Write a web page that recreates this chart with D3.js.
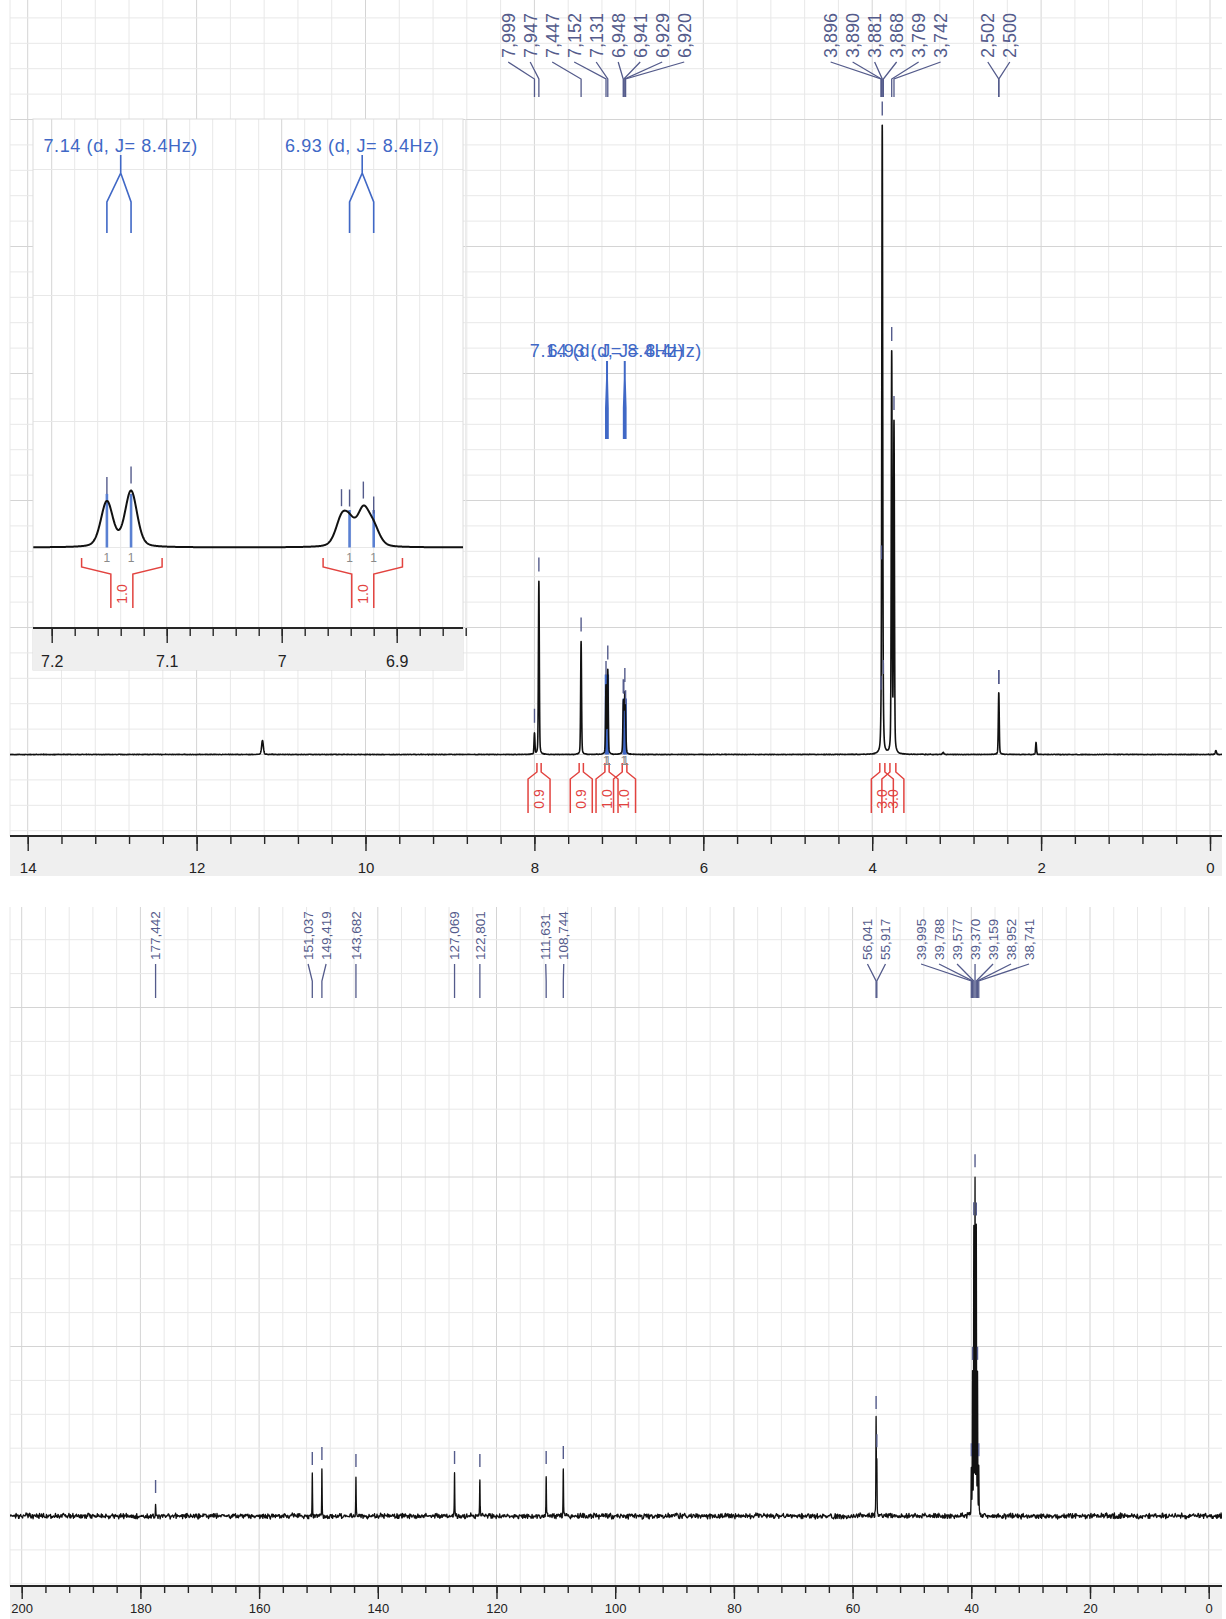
<!DOCTYPE html>
<html>
<head>
<meta charset="utf-8">
<script src="https://cdn.jsdelivr.net/npm/d3@7/dist/d3.min.js"></script>
<style>
  html, body { margin: 0; padding: 0; background: #fff; }
  svg { display: block; font-family: "Liberation Sans", Arial, sans-serif; }
</style>
</head>
<body>
<svg id="chart" width="1226" height="1619"></svg>
<script>
// ---------------- 1H NMR ----------------
// resolved lines: chemical shift (ppm), peak height (spectrum units), half width (ppm)
const hLinePpm    = [11.22, 7.999, 7.947, 7.447, 7.152, 7.131, 6.948, 6.941, 6.929, 6.920, 3.896, 3.890, 3.881, 3.868, 3.769, 3.742, 3.16, 2.502, 2.500, 2.06, -0.07];
const hLineHeight = [14, 21, 173, 113, 67.5, 83.4, 37.3, 28.4, 51.5, 25.7, 10, 18, 622, 14, 398, 328, 2, 32, 31, 12, 4];
const hLineWidth  = [0.012, 0.0062, 0.0062, 0.0062, 0.0062, 0.0062, 0.0062, 0.0062, 0.0062, 0.0062, 0.0062, 0.0062, 0.0062, 0.0062, 0.0062, 0.0062, 0.01, 0.0062, 0.0062, 0.0062, 0.008];

// picked peaks (labelled in the header)
const hPickPpm = [7.999, 7.947, 7.447, 7.152, 7.131, 6.948, 6.941, 6.929, 6.920, 3.896, 3.890, 3.881, 3.868, 3.769, 3.742, 2.502, 2.500];

// multiplet analysis
const multCenter = [7.14, 6.93];
const multLabel  = ["7.14 (d, J= 8.4Hz)", "6.93 (d, J= 8.4Hz)"];
const multLines  = [[7.152, 7.131], [6.941, 6.920]];
const multLineHeight = [80, 56];
const multLineCount  = ["1", "1"];

// integrals: range (ppm) and value
const hIntFrom  = [7.97, 7.47, 7.165, 6.96, 3.91, 3.79];
const hIntTo    = [7.92, 7.42, 7.115, 6.905, 3.85, 3.72];
const hIntValue = ["0.9", "0.9", "1.0", "1.0", "3.0", "3.0"];
const insetIntFrom  = [7.174, 6.964];
const insetIntTo    = [7.104, 6.895];
const insetIntValue = ["1.0", "1.0"];

// axis ticks
const hMajorTicks = [14, 12, 10, 8, 6, 4, 2, 0];
const hMinorTicks = d3.range(0, 36).map(i => +(i * 0.4).toFixed(1));
const insetMajorTicks = [7.2, 7.1, 7.0, 6.9];
const insetMinorTicks = d3.range(0, 19).map(i => +(6.84 + i * 0.02).toFixed(2));

// ---------------- 13C NMR ----------------
const cLinePpm    = [177.442, 151.037, 149.419, 143.682, 127.069, 122.801, 111.631, 108.744, 56.041, 55.917, 39.995, 39.788, 39.577, 39.370, 39.159, 38.952, 38.741];
const cLineHeight = [13, 41, 46, 39, 42, 39, 42, 47, 95, 55, 46, 140, 283, 330, 283, 140, 46];
const cMajorTicks = [200, 180, 160, 140, 120, 100, 80, 60, 40, 20, 0];
const cMinorTicks = d3.range(0, 51).map(i => i * 4);

// ---------------- styling ----------------
const FONT = '"Liberation Sans", Arial, sans-serif';
const COL = {
  ink: "#111", grid: "#e8e8e8", gridMajor: "#d4d4d4", band: "#efefef",
  pick: "#545b8b", blue: "#4068c6", blueLine: "#5a80d2", red: "#e2433f",
  grey: "#8a8a8a", axis: "#262626"
};

const svg = d3.select("#chart");
svg.append("rect").attr("width", 1226).attr("height", 1619).attr("fill", "#fff");

// ---------------- scales ----------------
const hX = d3.scaleLinear().domain([14, 0]).range([27.7, 1210]);
const hY = d3.scaleLinear().domain([0, 632]).range([754.5, 122.5]);
const inX = d3.scaleLinear().domain([7.2, 6.9]).range([51.7, 396.7]);
const inY = d3.scaleLinear().domain([0, 100]).range([547.5, 480.5]);
const cX = d3.scaleLinear().domain([200, 0]).range([21.7, 1208.7]);
const cY = d3.scaleLinear().domain([0, 339]).range([1516, 1177]);

const H = { left: 10, right: 1222, top: 0, axis: 836, bottom: 876 };
const IN = { left: 33, right: 463, top: 119, axis: 628, bottom: 670 };
const CP = { left: 10, right: 1222, top: 907, axis: 1586, bottom: 1619 };

// ---------------- helpers ----------------
function pseudoVoigt(d, w, eta) {
  const r2 = (d / w) * (d / w);
  return (1 - eta) * Math.exp(-Math.LN2 * r2) + eta / (1 + r2);
}

// deterministic hash used for the baseline noise texture
function hash01(n) {
  let t = (n * 2654435761) >>> 0;
  t ^= t >>> 15; t = Math.imul(t, 0x2c1b3c6d) >>> 0;
  t ^= t >>> 12; t = Math.imul(t, 0x297a2d39) >>> 0;
  t ^= t >>> 15;
  return (t >>> 0) / 4294967296;
}
function noiseAt(xPx, amp, seed) {
  const i = Math.round(xPx * 2) + seed;
  return (hash01(i) + hash01(i + 7919) - 1) * amp;
}

function spectrumPoints(ppms, heights, widths, eta, lo, hi, step) {
  const pts = d3.range(lo, hi, step);
  ppms.forEach((p, i) => {
    const w = widths[i];
    for (let d = -15 * w; d <= 15 * w; d += w / 5) {
      const q = p + d;
      if (q > lo && q < hi) pts.push(q);
    }
  });
  pts.sort((a, b) => b - a);
  return pts.map(q => [q, d3.sum(ppms, (p, i) => heights[i] * pseudoVoigt(q - p, widths[i], eta))]);
}
function intensityAt(q, ppms, heights, widths, eta) {
  return d3.sum(ppms, (p, i) => heights[i] * pseudoVoigt(q - p, widths[i], eta));
}

// spread crowded labels into evenly spaced groups centred on their peaks
function spreadLabels(xs, gap) {
  let groups = xs.map((x, i) => ({ i0: i, i1: i, mean: x }));
  const span = g => {
    const n = g.i1 - g.i0 + 1;
    return [g.mean - (n - 1) / 2 * gap, g.mean + (n - 1) / 2 * gap];
  };
  let changed = true;
  while (changed) {
    changed = false;
    for (let k = 0; k < groups.length - 1; k++) {
      const a = groups[k], b = groups[k + 1];
      if (span(b)[0] - span(a)[1] < gap) {
        const m = { i0: a.i0, i1: b.i1, mean: d3.mean(xs.slice(a.i0, b.i1 + 1)) };
        groups.splice(k, 2, m);
        changed = true;
        break;
      }
    }
  }
  const out = [];
  groups.forEach(g => {
    const mid = (g.i0 + g.i1) / 2;
    for (let i = g.i0; i <= g.i1; i++) out[i] = g.mean + (i - mid) * gap;
  });
  return out;
}

function drawGrid(g, xs, xsMajor, ys, ysMajor, x0, x1, y0, y1) {
  g.selectAll(null).data(xs).join("line")
    .attr("x1", d => d).attr("x2", d => d).attr("y1", y0).attr("y2", y1)
    .attr("stroke", (d, i) => xsMajor[i] ? COL.gridMajor : COL.grid).attr("stroke-width", 1);
  g.selectAll(null).data(ys).join("line")
    .attr("x1", x0).attr("x2", x1).attr("y1", d => d).attr("y2", d => d)
    .attr("stroke", (d, i) => ysMajor[i] ? COL.gridMajor : COL.grid).attr("stroke-width", 1);
}

function drawAxis(g, scale, P, majors, minors, majLen, minLen, fmt, fs, labelBase) {
  g.append("rect").attr("x", P.left).attr("y", P.axis)
    .attr("width", P.right - P.left).attr("height", P.bottom - P.axis).attr("fill", COL.band);
  const gm = g.append("g").attr("transform", `translate(0,${P.axis})`)
    .call(d3.axisBottom(scale).tickValues(minors).tickSize(minLen).tickFormat(""));
  gm.select(".domain").remove();
  const gM = g.append("g").attr("transform", `translate(0,${P.axis})`)
    .call(d3.axisBottom(scale).tickValues(majors).tickSize(majLen).tickFormat(fmt));
  gM.select(".domain").remove();
  gM.selectAll("text").attr("y", labelBase - P.axis).attr("dy", null)
    .attr("fill", "#222").style("font-size", fs + "px").style("font-family", FONT);
  [gm, gM].forEach(s => s.selectAll("line").attr("stroke", COL.axis).attr("stroke-width", 1.4));
  g.append("line").attr("x1", P.left).attr("x2", P.right).attr("y1", P.axis).attr("y2", P.axis)
    .attr("stroke", COL.axis).attr("stroke-width", 2.2);
}

// shift labels: rotated text reading upwards, starting at textBottom
function drawPickLabels(g, xScale, ppms, gap, textBottom, fs, cTop, cBend, cBottom) {
  const px = ppms.map(p => xScale(p));
  const lx = spreadLabels(px, gap);
  g.selectAll(null).data(ppms).join("text")
    .attr("transform", (d, i) => `translate(${lx[i]},${textBottom}) rotate(-90)`)
    .attr("text-anchor", "start").attr("dy", "0.35em")
    .attr("fill", COL.pick).style("font-size", fs + "px")
    .text(d => d3.format(".3f")(d).replace(".", ","));
  g.selectAll(null).data(ppms).join("path")
    .attr("d", (d, i) => `M${lx[i]},${cTop}L${px[i]},${cBend}L${px[i]},${cBottom}`)
    .attr("fill", "none").attr("stroke", COL.pick).attr("stroke-width", 1.3);
}

function drawMarkers(g, xScale, yScale, ppms, valueAt, gap, len) {
  g.selectAll(null).data(ppms).join("line")
    .attr("x1", d => xScale(d)).attr("x2", d => xScale(d))
    .attr("y1", d => yScale(valueAt(d)) - gap - len)
    .attr("y2", d => yScale(valueAt(d)) - gap)
    .attr("stroke", COL.pick).attr("stroke-width", 1.4);
}

function drawIntegrals(g, xScale, from, to, values, yTop, fs) {
  const hw = 11;
  from.forEach((f, i) => {
    const x0 = xScale(f), x1 = xScale(to[i]), c = (x0 + x1) / 2;
    g.append("path")
      .attr("d", `M${x0},${yTop}L${x0},${yTop + 9}L${c - hw},${yTop + 16}L${c - hw},${yTop + 50}` +
                 `M${x1},${yTop}L${x1},${yTop + 9}L${c + hw},${yTop + 16}L${c + hw},${yTop + 50}`)
      .attr("fill", "none").attr("stroke", COL.red).attr("stroke-width", 1.5);
    g.append("text")
      .attr("transform", `translate(${c},${yTop + 36}) rotate(-90)`)
      .attr("text-anchor", "middle").attr("dy", "0.35em")
      .attr("fill", COL.red).style("font-size", fs + "px").text(values[i]);
  });
}

function drawMultiplets(g, xScale, textBase, top, sw) {
  multCenter.forEach((c, i) => {
    const cx = xScale(c);
    g.append("text").attr("x", cx).attr("y", textBase).attr("text-anchor", "middle")
      .attr("fill", COL.blue).style("font-size", "18px").style("letter-spacing", "0.6px")
      .text(multLabel[i]);
    const [l1, l2] = multLines[i].map(xScale);
    g.append("path")
      .attr("d", `M${cx},${top}L${cx},${top + 18}L${l1},${top + 47}L${l1},${top + 78}` +
                 `M${cx},${top + 18}L${l2},${top + 47}L${l2},${top + 78}`)
      .attr("fill", "none").attr("stroke", COL.blue).attr("stroke-width", sw);
  });
}

function drawMultLineBars(g, xScale, yScale, sw, color) {
  multLines.forEach((lines, i) => {
    lines.forEach(p => {
      g.append("line").attr("x1", xScale(p)).attr("x2", xScale(p))
        .attr("y1", yScale(0)).attr("y2", yScale(multLineHeight[i]))
        .attr("stroke", color).attr("stroke-width", sw);
    });
  });
}

function drawLineCounts(g, xScale, y) {
  multLines.forEach((lines, i) => {
    lines.forEach(p => {
      g.append("text").attr("x", xScale(p)).attr("y", y).attr("text-anchor", "middle")
        .attr("dy", "0.35em").attr("fill", COL.grey).style("font-size", "12px")
        .text(multLineCount[i]);
    });
  });
}

const defs = svg.append("defs");
function clip(id, P, bottom) {
  defs.append("clipPath").attr("id", id).append("rect")
    .attr("x", P.left).attr("y", P.top).attr("width", P.right - P.left).attr("height", bottom - P.top);
  return `url(#${id})`;
}

// =============== 1H panel ===============
const gH = svg.append("g");
{
  const vx = hMinorTicks.map(hX), vMaj = hMinorTicks.map(t => Math.abs(t / 2 - Math.round(t / 2)) < 1e-6);
  const ks = d3.range(-3, 33);
  const keep = ks.filter(k => { const y = hY(0) - k * 25.4; return y > H.top + 5 && y < H.axis - 2; });
  const hy = keep.map(k => hY(0) - k * 25.4);
  const hyMaj = keep.map(k => ((k % 5) + 5) % 5 === 0);
  drawGrid(gH.append("g"), vx, vMaj, hy, hyMaj, H.left, H.right, H.top, H.axis);
  gH.append("line").attr("x1", H.left).attr("x2", H.left).attr("y1", H.top).attr("y2", H.axis)
    .attr("stroke", COL.grid);

  drawAxis(gH.append("g"), hX, H, hMajorTicks, hMinorTicks, 15, 8, d => String(d), 15, 873);

  // multiplet labels collapsed at full-spectrum scale
  drawMultiplets(gH.append("g"), hX, 357, 361, 2);

  // multiplet line bars
  drawMultLineBars(gH.append("g"), hX, hY, 2.6, COL.blue);

  // spectrum trace
  const pts = spectrumPoints(hLinePpm, hLineHeight, hLineWidth, 0.3, -0.145, 14.22, 0.0059);
  gH.append("path")
    .attr("clip-path", clip("clipH", H, H.axis))
    .attr("d", d3.line().x(d => hX(d[0])).y(d => hY(d[1] + noiseAt(hX(d[0]), 0.35, 11)))(pts))
    .attr("fill", "none").attr("stroke", COL.ink).attr("stroke-width", 1.6).attr("stroke-linejoin", "round");

  const hAt = q => intensityAt(q, hLinePpm, hLineHeight, hLineWidth, 0.3);
  drawMarkers(gH.append("g"), hX, hY, hPickPpm, hAt, 10, 14);
  drawPickLabels(gH.append("g"), hX, hPickPpm, 22, 58, 18, 62, 79, 97);

  drawIntegrals(gH.append("g"), hX, hIntFrom, hIntTo, hIntValue, 763, 14);
  drawLineCounts(gH.append("g"), hX, 761);
}

// =============== inset (7.2 – 6.84 ppm) ===============
const gI = svg.append("g");
{
  gI.append("rect").attr("x", IN.left).attr("y", IN.top).attr("width", IN.right - IN.left)
    .attr("height", IN.bottom - IN.top).attr("fill", "#fff");
  const vx = insetMinorTicks.map(inX);
  const vMaj = insetMinorTicks.map(t => Math.abs(t * 10 - Math.round(t * 10)) < 1e-6);
  const hy = [0, 1, 2, 3].map(k => inY(0) - k * 126);
  drawGrid(gI.append("g"), vx, vMaj, hy, hy.map(() => false), IN.left, IN.right, IN.top, IN.axis);
  gI.append("rect").attr("x", IN.left).attr("y", IN.top).attr("width", IN.right - IN.left)
    .attr("height", IN.bottom - IN.top).attr("fill", "none").attr("stroke", "#dcdcdc");

  drawAxis(gI.append("g"), inX, IN, insetMajorTicks, insetMinorTicks, 15, 8,
           d => String(+d.toFixed(1)), 16, 667);

  drawMultiplets(gI.append("g"), inX, 152, 155, 1.6);

  drawMultLineBars(gI.append("g"), inX, inY, 2.6, COL.blueLine);

  const pts = spectrumPoints(hLinePpm, hLineHeight, hLineWidth, 0.3, 6.842, 7.216, 0.0004);
  gI.append("path")
    .attr("clip-path", clip("clipI", IN, IN.axis))
    .attr("d", d3.line().x(d => inX(d[0])).y(d => inY(d[1]))(pts))
    .attr("fill", "none").attr("stroke", COL.ink).attr("stroke-width", 2).attr("stroke-linejoin", "round");

  const inPicks = hPickPpm.filter(p => p < 7.2 && p > 6.85);
  const hAt = q => intensityAt(q, hLinePpm, hLineHeight, hLineWidth, 0.3);
  drawMarkers(gI.append("g"), inX, inY, inPicks, hAt, 7, 17);

  drawLineCounts(gI.append("g"), inX, 558);
  drawIntegrals(gI.append("g"), inX, insetIntFrom, insetIntTo, insetIntValue, 558, 14);
}

// =============== 13C panel ===============
const gC = svg.append("g");
{
  const vx = cMinorTicks.map(cX), vMaj = cMinorTicks.map(t => t % 20 === 0);
  const ks = d3.range(-2, 19);
  const keep = ks.filter(k => { const y = cY(0) - k * 33.9; return y >= CP.top - 1 && y < CP.axis - 2; });
  const hy = keep.map(k => cY(0) - k * 33.9);
  const hyMaj = keep.map(k => ((k % 5) + 5) % 5 === 0);
  drawGrid(gC.append("g"), vx, vMaj, hy, hyMaj, CP.left, CP.right, CP.top, CP.axis);
  gC.append("line").attr("x1", CP.left).attr("x2", CP.left).attr("y1", CP.top).attr("y2", CP.axis)
    .attr("stroke", COL.grid);

  drawAxis(gC.append("g"), cX, CP, cMajorTicks, cMinorTicks, 13, 7, d => String(d), 13, 1613);

  const cWidth = cLinePpm.map(() => 0.045);
  const pts = spectrumPoints(cLinePpm, cLineHeight, cWidth, 0.3, -2.25, 202, 0.084);
  gC.append("path")
    .attr("clip-path", clip("clipC", CP, CP.axis))
    .attr("d", d3.line().x(d => cX(d[0])).y(d => cY(d[1] + noiseAt(cX(d[0]), 3.2, 503)))(pts))
    .attr("fill", "none").attr("stroke", COL.ink).attr("stroke-width", 1.3).attr("stroke-linejoin", "round");

  const cAt = q => intensityAt(q, cLinePpm, cLineHeight, cWidth, 0.3);
  drawMarkers(gC.append("g"), cX, cY, cLinePpm, cAt, 10, 13);
  drawPickLabels(gC.append("g"), cX, cLinePpm, 18, 960, 13.5, 964, 981, 998);
}
</script>
</body>
</html>
